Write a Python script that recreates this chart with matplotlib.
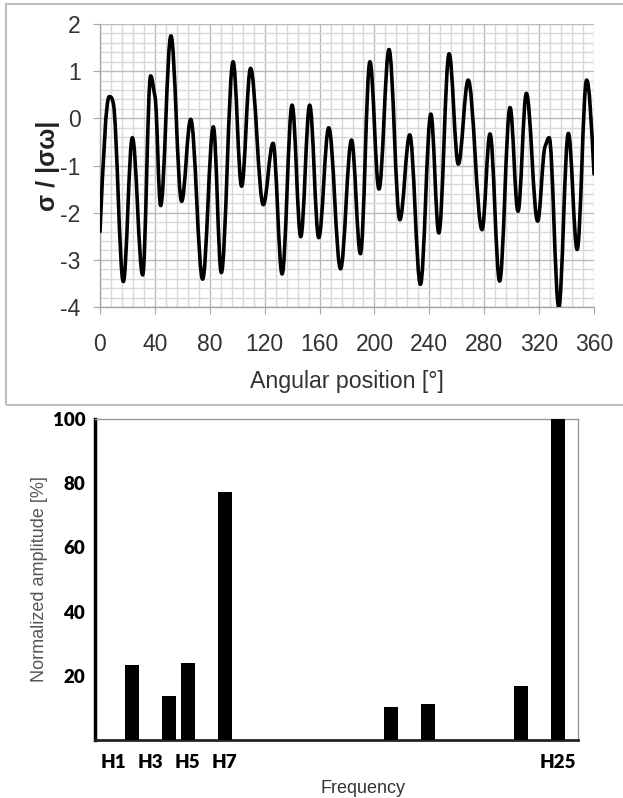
import numpy as np
import matplotlib
matplotlib.use('Agg')
import matplotlib.pyplot as plt
from matplotlib.path import Path
from matplotlib.patches import PathPatch, Rectangle

# --- dados ---
# extremos da curva (angulo em graus, sigma / |sigma_w|)
angulo = [0, 6.8, 9.7, 17.0, 23.6, 31.1, 36.9, 40.1, 44.2, 51.7, 59.5, 66.1,
          74.8, 82.6, 88.4, 97.0, 103.2, 109.7, 119.0, 126.1, 132.7, 140.0,
          146.3, 152.8, 159.4, 166.7, 175.3, 183.3, 189.8, 196.7, 203.3,
          210.6, 218.5, 225.7, 233.5, 241.1, 246.9, 254.4, 261.1, 268.3,
          278.4, 284.2, 291.2, 298.8, 304.6, 310.7, 318.9, 324.3, 327.3,
          334.3, 341.3, 347.7, 354.6, 360]
sigma = [-2.40, 0.46, 0.32, -3.46, -0.41, -3.32, 0.90, 0.46, -1.85, 1.75,
         -1.76, -0.02, -3.41, -0.18, -3.27, 1.20, -1.44, 1.06, -1.83, -0.53,
         -3.30, 0.28, -2.51, 0.28, -2.53, -0.20, -3.19, -0.46, -2.87, 1.20,
         -1.50, 1.46, -2.15, -0.35, -3.52, 0.09, -2.43, 1.37, -0.97, 0.81,
         -2.36, -0.33, -3.45, 0.23, -1.97, 0.53, -2.18, -0.60, -0.41, -4.00,
         -0.32, -2.78, 0.81, -1.18]

# espectro harmonico
harmonicos = [2, 4, 5, 7, 16, 18, 23, 25]
amplitude = [23.4, 13.7, 24.1, 77.4, 10.4, 11.1, 16.9, 100]
tick_harm = [1, 3, 5, 7, 25]
tick_rotulos = ['H1', 'H3', 'H5', 'H7', 'H25']

plt.rcParams['font.family'] = ['Liberation Sans', 'DejaVu Sans']
plt.rcParams['axes.unicode_minus'] = False

fig = plt.figure(figsize=(6.23, 7.98), dpi=100)

# moldura cinza do painel de cima
fig.patches.append(Rectangle((0.0096, 0.4925), 1.2, 0.5025, transform=fig.transFigure,
                             fill=False, edgecolor='#bdbdbd', linewidth=1.5))

# ================= painel de cima =================
ax1 = fig.add_axes([0.1605, 0.6153, 0.793, 0.3546])

# inclinacao em cada ponto: zero nos extremos, secante nos "ombros" e pontas
n = len(angulo)
incl = []
for i in range(n):
    if i == 0:
        m = 1.5 * (sigma[1] - sigma[0]) / (angulo[1] - angulo[0])
    elif i == n - 1:
        m = 1.5 * (sigma[i] - sigma[i - 1]) / (angulo[i] - angulo[i - 1])
    else:
        a, b = sigma[i] - sigma[i - 1], sigma[i + 1] - sigma[i]
        if a * b < 0:
            m = 0.0
        else:
            m = 0.35 * (sigma[i + 1] - sigma[i - 1]) / (angulo[i + 1] - angulo[i - 1])
    incl.append(m)

# curva suave: bezier cubica entre pontos lidos
k = 0.363
verts = [(angulo[0], sigma[0])]
codes = [Path.MOVETO]
for i in range(n - 1):
    x0, y0 = angulo[i], sigma[i]
    x1, y1 = angulo[i + 1], sigma[i + 1]
    dx = x1 - x0
    c1 = (x0 + k * dx, y0 + incl[i] * k * dx)
    c2 = (x1 - k * dx, y1 - incl[i + 1] * k * dx)
    verts += [c1, c2, (x1, y1)]
    codes += [Path.CURVE4] * 3
ax1.add_patch(PathPatch(Path(verts, codes), fill=False, edgecolor='black',
                        linewidth=2.6, zorder=3, capstyle='round', joinstyle='round'))

ax1.set_xlim(0, 360)
ax1.set_ylim(-4, 2)
ax1.set_xticks(np.arange(0, 361, 40))
ax1.set_xticks(np.arange(0, 361, 8), minor=True)
ax1.set_yticks(np.arange(-4, 2.1, 1))
ax1.set_yticks(np.arange(-4, 2.01, 0.2), minor=True)
ax1.grid(which='minor', color='#d9d9d9', linewidth=1.0)
ax1.grid(which='major', color='#bababa', linewidth=1.0)
ax1.set_axisbelow(True)
for s in ['top', 'right']:
    ax1.spines[s].set_visible(False)
for s in ['left', 'bottom']:
    ax1.spines[s].set_color('#a6a6a6')
    ax1.spines[s].set_linewidth(1.0)
ax1.tick_params(which='minor', length=0)
ax1.tick_params(which='major', direction='out', length=5, color='#a6a6a6',
                labelsize=16.5, labelcolor='#333333')
ax1.tick_params(axis='y', pad=9)
ax1.tick_params(axis='x', pad=14)
ax1.set_xlabel('Angular position [°]', fontsize=16.7, color='#333333', labelpad=10)
ax1.set_ylabel('σ / |σω|', fontsize=18, fontweight='bold', color='#222222', labelpad=0)

# ================= painel de baixo =================
ax2 = fig.add_axes([0.1525, 0.0727, 0.7753, 0.4022])
ax2.bar(harmonicos, amplitude, width=0.76, color='black', zorder=3)
ax2.set_xlim(0, 26.1)
ax2.set_ylim(0, 100)
ax2.set_xticks(tick_harm)
ax2.set_xticklabels(tick_rotulos)
ax2.set_yticks([20, 40, 60, 80, 100])
for lab in ax2.get_xticklabels() + ax2.get_yticklabels():
    lab.set_family(['Lato', 'DejaVu Sans'])
    lab.set_fontweight('heavy')
    lab.set_fontsize(13.5)
ax2.tick_params(length=0)
ax2.tick_params(axis='x', pad=10)
ax2.tick_params(axis='y', pad=7)
ax2.spines['left'].set_linewidth(2.5)
ax2.spines['left'].set_color('black')
ax2.spines['bottom'].set_linewidth(2.0)
ax2.spines['bottom'].set_color('#222222')
for s in ['top', 'right']:
    ax2.spines[s].set_linewidth(1.0)
    ax2.spines[s].set_color('#999999')
ax2.set_xlabel('Frequency', fontsize=13, color='#333333')
ax2.xaxis.set_label_coords(0.555, -0.125)
ax2.set_ylabel('Normalized amplitude [%]', fontsize=13, color='#555555', labelpad=3)

fig.savefig('out.png', dpi=100)
